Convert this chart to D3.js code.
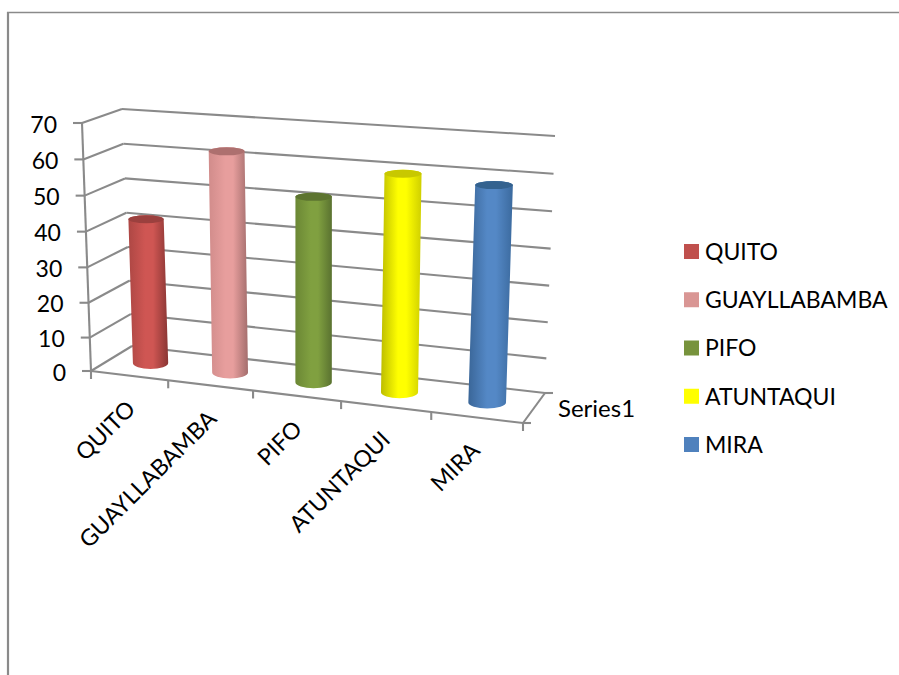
<!DOCTYPE html>
<html>
<head>
<meta charset="utf-8">
<script src="https://cdn.jsdelivr.net/npm/d3@7"></script>
<style>
  html, body { margin: 0; padding: 0; background: #fff; }
  svg { display: block; }
  text { font-family: Lato, "Open Sans", sans-serif; font-size: 23px; fill: #000; }
</style>
</head>
<body>
<script>
var categories = ["QUITO", "GUAYLLABAMBA", "PIFO", "ATUNTAQUI", "MIRA"];
var values = [41.8, 62.4, 51.7, 59.6, 58.3];
var yTicks = [0, 10, 20, 30, 40, 50, 60, 70];
var depthLabel = "Series1";

// side, centre, other side, cap
var barShades = [
  ["#ad4744", "#cf5653", "#8a3634", "#9b403e"],
  ["#d18c8b", "#e79e9d", "#a46e6d", "#ad706f"],
  ["#6b8735", "#80a040", "#5a7230", "#5d7430"],
  ["#bdbd00", "#ffff00", "#cfcf00", "#c8c800"],
  ["#3a6698", "#5488c6", "#3b6a9e", "#34628f"]
];
var legendColors = ["#c0504d", "#d99694", "#77933c", "#ffff00", "#4f81bd"];

var width = 899, height = 675;
var lineColor = "#8a8a8a";

var svg = d3.select("body").append("svg")
  .attr("width", width)
  .attr("height", height);

//--------------------------------------
// Projection of the 3D box
//--------------------------------------

// box corners on screen: front/back, left/right, floor/top
var box = {
  flb: [91, 371],  flt: [82, 123],
  blb: [132, 346], blt: [122, 109],
  frb: [523, 423], frt: [534, 150],
  brb: [545, 393], brt: [555, 136]
};

var n = categories.length;
var xPos = d3.scalePow().exponent(1.07).domain([0, n]).range([0, 1]);
var yPos = d3.scalePow().exponent(1.03).domain([0, 70]).range([0, 1]);
var radius = d3.scaleLinear().domain([0, 1]).range([17.5, 19]);

// the cylinders and labels sit a little off the middle of their slots
var barX = d3.scaleLinear().domain([0, n - 1]).range([0.54, n - 0.52]);
var labelX = d3.scaleLinear().domain([0, n - 1]).range([0.5, n - 0.55]);

function mix(a, b, t) {
  return [a[0] + (b[0] - a[0]) * t, a[1] + (b[1] - a[1]) * t];
}

// x in category units, v in axis units, depth 0 (front) .. 1 (back)
function project(x, v, depth) {
  var u = xPos(x), h = yPos(v);
  var floor = mix(mix(box.flb, box.frb, u), mix(box.blb, box.brb, u), depth);
  var top = mix(mix(box.flt, box.frt, u), mix(box.blt, box.brt, u), depth);
  return mix(floor, top, h);
}

function segment(g, a, b, w) {
  g.append("line")
    .attr("x1", a[0]).attr("y1", a[1])
    .attr("x2", b[0]).attr("y2", b[1])
    .attr("stroke", lineColor)
    .attr("stroke-width", w || 2.1);
}

//--------------------------------------
// Outer frame
//--------------------------------------

var frame = svg.append("g");
segment(frame, [8, 12], [8, height], 2.2);
segment(frame, [7, 12.5], [width, 12.5], 1.6);

//--------------------------------------
// Walls, floor and axes
//--------------------------------------

var grid = svg.append("g");

yTicks.forEach(function(v) {
  var front = project(0, v, 0), corner = project(0, v, 1), end = project(n, v, 1);
  segment(grid, front, corner);
  segment(grid, corner, end);
  segment(grid, [front[0] - 9, front[1]], front);
});

segment(grid, project(0, 0, 0), project(0, 70, 0));
segment(grid, project(0, 0, 0), project(n, 0, 0));
segment(grid, project(n, 0, 0), project(n, 0, 1));

d3.range(n + 1).forEach(function(i) {
  var p = project(i, 0, 0);
  segment(grid, p, [p[0], p[1] + 8]);
});

// depth axis ticks
[0, 1].forEach(function(d) {
  var p = project(n, 0, d);
  segment(grid, p, [p[0] + 8, p[1]]);
});

svg.append("g").selectAll("text")
  .data(yTicks)
  .join("text")
  .attr("text-anchor", "end")
  .attr("dy", "0.42em")
  .attr("x", function(d) { return project(0, d, 0)[0] - 25; })
  .attr("y", function(d) { return project(0, d, 0)[1]; })
  .text(function(d) { return d; });

svg.append("text")
  .attr("x", 558)
  .attr("y", 417)
  .style("font-size", "24px")
  .text(depthLabel);

svg.append("g").selectAll("text")
  .data(categories)
  .join("text")
  .attr("text-anchor", "end")
  .attr("transform", function(d, i) {
    var p = project(labelX(i), 0, 0);
    return "translate(" + (p[0] + 9) + "," + (p[1] + 35) + ") rotate(-45)";
  })
  .text(function(d) { return d; });

//--------------------------------------
// Cylinders
//--------------------------------------

var defs = svg.append("defs");
barShades.forEach(function(shade, i) {
  var grad = defs.append("linearGradient").attr("id", "bar-" + i);
  [[0, shade[0]], [0.42, shade[1]], [0.62, shade[1]], [1, shade[2]]].forEach(function(s) {
    grad.append("stop").attr("offset", s[0]).attr("stop-color", s[1]);
  });
});

var bars = svg.append("g").selectAll("g")
  .data(values)
  .join("g");

bars.append("path")
  .attr("fill", function(d, i) { return "url(#bar-" + i + ")"; })
  .attr("d", function(d, i) {
    var r = radius(xPos(barX(i)));
    var base = project(barX(i), 0, 0.5), top = project(barX(i), d, 0.5);
    return "M" + (top[0] - r) + "," + top[1] +
      "L" + (base[0] - r) + "," + base[1] +
      "A" + r + ",6 0 0 0 " + (base[0] + r) + "," + base[1] +
      "L" + (top[0] + r) + "," + top[1] +
      "A" + r + ",4 0 0 0 " + (top[0] - r) + "," + top[1] + "Z";
  });

bars.append("ellipse")
  .attr("fill", function(d, i) { return barShades[i][3]; })
  .attr("cx", function(d, i) { return project(barX(i), d, 0.5)[0]; })
  .attr("cy", function(d, i) { return project(barX(i), d, 0.5)[1]; })
  .attr("rx", function(d, i) { return radius(xPos(barX(i))); })
  .attr("ry", 4);

//--------------------------------------
// Legend
//--------------------------------------

var legendY = d3.scalePoint().domain(categories).range([251.5, 444.5]);

var legend = svg.append("g").selectAll("g")
  .data(categories)
  .join("g")
  .attr("transform", function(d) { return "translate(684," + legendY(d) + ")"; });

legend.append("rect")
  .attr("y", -7.5)
  .attr("width", 15)
  .attr("height", 15)
  .attr("fill", function(d, i) { return legendColors[i]; });

legend.append("text")
  .attr("x", 21)
  .attr("dy", "0.36em")
  .text(function(d) { return d; });
</script>
</body>
</html>
